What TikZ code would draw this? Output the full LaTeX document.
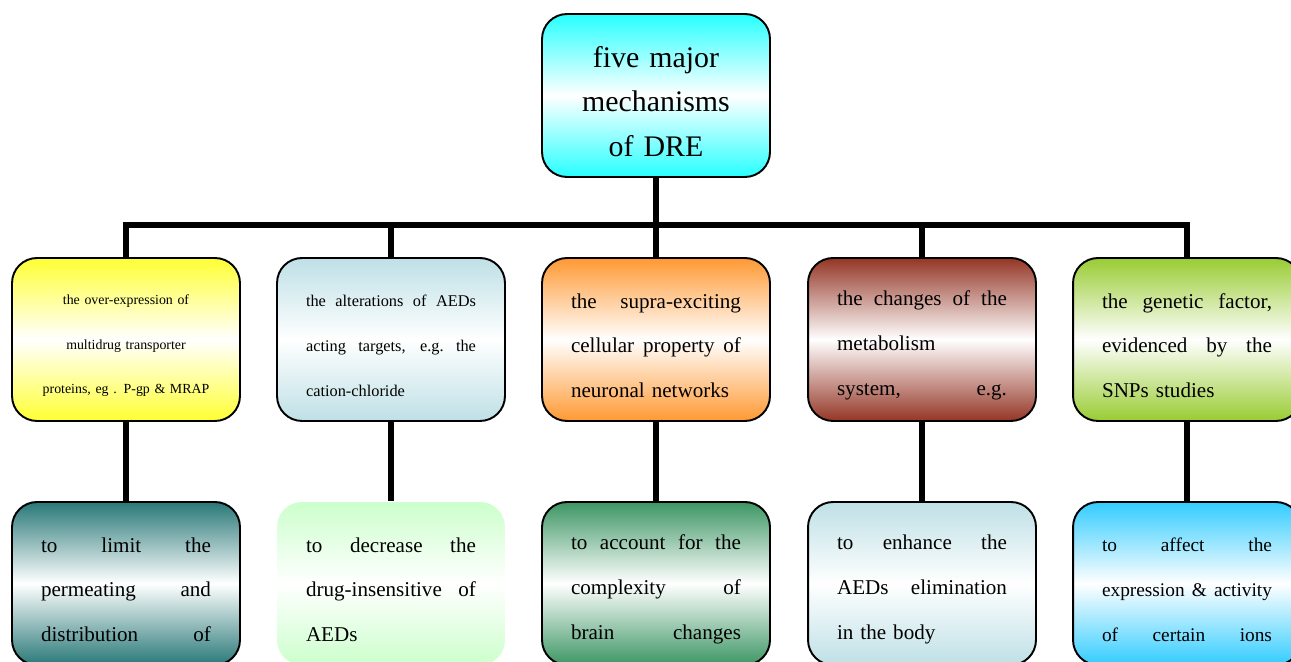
\documentclass[tikz,border=0pt]{standalone}
\usepackage{fontspec}
\setmainfont{Liberation Serif}
\usepackage{xcolor}
\definecolor{hubcyan}{RGB}{40,255,255}
\definecolor{sunyellow}{RGB}{255,255,51}
\definecolor{powder}{RGB}{190,224,230}
\definecolor{tangerine}{RGB}{255,153,51}
\definecolor{rust}{RGB}{148,54,38}
\definecolor{leaf}{RGB}{153,204,51}
\definecolor{deepteal}{RGB}{41,120,120}
\definecolor{mint}{RGB}{204,255,204}
\definecolor{seagreen}{RGB}{61,150,100}
\definecolor{sky}{RGB}{51,204,255}
% one justified line of a box
\newcommand{\jline}[1]{{\spaceskip=.25em plus 1fil\xspaceskip=.25em plus 1fil\makebox[3.4cm][s]{#1}}}

\begin{document}
\begin{tikzpicture}[
    x=0.02cm, y=0.02cm,
    mechbox/.style={draw, rounded corners=0.5cm, line width=1.1pt, minimum width=4.56cm, minimum height=3.26cm,
        text width=3.4cm, align=left, inner sep=0pt, top color=#1, bottom color=#1, middle color=white,
        font=\fontsize{12}{25.5}\selectfont, execute at begin node={\rule{0pt}{\dimexpr.7em+7pt\relax}}},
    hub/.style={mechbox=hubcyan, align=center, font=\fontsize{17}{25.5}\selectfont},
    link/.style={line width=3.5pt}
]
\useasboundingbox (0,0) rectangle (1291,662);
\clip (0,0) rectangle (1291,662);

\node[hub] (hub) at (656,566.5) {five major\\ mechanisms\\ of DRE};

\node[mechbox=sunyellow, align=center, text width=4cm, font=\fontsize{7.9}{25.5}\selectfont] (m1) at (126,322.5)
    {the over-expression of\\ multidrug transporter\\ proteins, eg . P-gp \& MRAP};
\node[mechbox=powder, font=\fontsize{9.3}{25.5}\selectfont] (m2) at (391,322.5)
    {\jline{the alterations of AEDs}\\ \jline{acting targets, e.g. the}\\ cation-chloride};
\node[mechbox=tangerine] (m3) at (656,322.5)
    {\jline{the supra-exciting}\\ \jline{cellular property of}\\ neuronal networks};
\node[mechbox=rust] (m4) at (922,322.5)
    {\jline{the changes of the}\\ metabolism\\ \jline{system, e.g.}};
\node[mechbox=leaf] (m5) at (1187,322.5)
    {\jline{the genetic factor,}\\ \jline{evidenced by the}\\ SNPs studies};

\node[mechbox=deepteal] (r1) at (126,78.5)
    {\jline{to limit the}\\ \jline{permeating and}\\ \jline{distribution of}};
\node[mechbox=mint, draw=none] (r2) at (391,78.5)
    {\jline{to decrease the}\\ \jline{drug-insensitive of}\\ AEDs};
\node[mechbox=seagreen] (r3) at (656,78.5)
    {\jline{to account for the}\\ \jline{complexity of}\\ \jline{brain changes}};
\node[mechbox=powder] (r4) at (922,78.5)
    {\jline{to enhance the}\\ \jline{AEDs elimination}\\ in the body};
\node[mechbox=sky, font=\fontsize{11}{25.5}\selectfont] (r5) at (1187,78.5)
    {\jline{to affect the}\\ \jline{expression \& activity}\\ \jline{of certain ions}};

% tree connectors
\coordinate (bar) at (656,437);
\draw[link] (m1.north) |- (bar) -| (m5.north);
\draw[link] (hub.south) -- (bar);
\foreach \i in {2,3,4}
    \draw[link] (m\i.north) -- (m\i.north |- bar);
\foreach \i in {1,...,5}
    \draw[link] (m\i.south) -- (r\i.north);
\end{tikzpicture}
\end{document}
